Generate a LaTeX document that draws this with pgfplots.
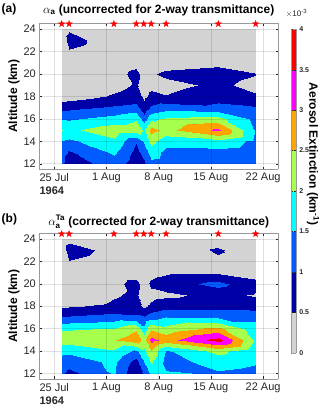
\documentclass[border=0pt]{standalone}
\usepackage{fontspec}
\setmainfont{Liberation Sans}
\usepackage{amsmath}
\usepackage{pgfplots}
\pgfplotsset{compat=1.18}
\definecolor{cgray}{HTML}{D3D3D3}
\definecolor{cnavy}{HTML}{0000A8}
\definecolor{cblue}{HTML}{005CFF}
\definecolor{ccyan}{HTML}{00FFFF}
\definecolor{clime}{HTML}{A6FF4D}
\definecolor{corange}{HTML}{FFA500}
\definecolor{cmag}{HTML}{FF00FF}
\definecolor{cred}{HTML}{FF0000}
\definecolor{ink}{HTML}{262626}

% filled five-pointed star
\pgfdeclareplotmark{pstar}{%
  \pgfpathmoveto{\pgfpointpolar{90}{\pgfplotmarksize}}%
  \pgfpathlineto{\pgfpointpolar{126}{0.4\pgfplotmarksize}}%
  \pgfpathlineto{\pgfpointpolar{162}{\pgfplotmarksize}}%
  \pgfpathlineto{\pgfpointpolar{198}{0.4\pgfplotmarksize}}%
  \pgfpathlineto{\pgfpointpolar{234}{\pgfplotmarksize}}%
  \pgfpathlineto{\pgfpointpolar{270}{0.4\pgfplotmarksize}}%
  \pgfpathlineto{\pgfpointpolar{306}{\pgfplotmarksize}}%
  \pgfpathlineto{\pgfpointpolar{342}{0.4\pgfplotmarksize}}%
  \pgfpathlineto{\pgfpointpolar{18}{\pgfplotmarksize}}%
  \pgfpathlineto{\pgfpointpolar{54}{0.4\pgfplotmarksize}}%
  \pgfpathclose
  \pgfusepathqfillstroke
}

\pgfplotsset{
  /pgf/number format/assume math mode=true,
  extmap/.style={colormap={ext}{color(0)=(cgray) color(0.5)=(cnavy) color(1)=(cblue)
      color(1.5)=(ccyan) color(2)=(clime) color(2.5)=(corange) color(3)=(cmag)
      color(3.5)=(cred) color(4)=(cred)}},
  panel/.style={
    view={0}{90}, scale only axis, width=238.7pt, height=146pt,
    xmin=23, xmax=55, ymin=11.5, ymax=24.5, zmin=0, zmax=4,
    xtick={25,32,39,46,53},
    xticklabels={{\begin{tabular}{@{}l@{}}25 Jul\\\textbf{1964}\end{tabular}},1 Aug,8 Aug,15 Aug,22 Aug},
    ytick={12,14,...,24}, ztick=\empty,
    xmajorgrids, ymajorgrids, major grid style={black,opacity=0.12},
    axis on top, clip=false,
    tick align=inside, major tick length=2.5pt,
    tick style={ink}, axis line style={black!40},
    tick label style={font=\fontsize{11}{13}\selectfont, text=ink},
    extmap, colormap access=piecewise constant,
    point meta min=0, point meta max=4,
  },
  stars/.style={only marks, mark=pstar, mark size=3.5pt, color=cred,
    mark options={fill=cred, draw=cred, line width=0.2pt}},
}

\begin{document}
\begin{tikzpicture}
\useasboundingbox (0,0) rectangle (320pt,409pt);

% panel (a)
\begin{axis}[panel, at={(39.3pt,239.7pt)}, anchor=south west,
  colorbar,
  colorbar style={
    at={(parent axis.north east)}, anchor=north west, xshift=4.7pt, yshift=-6pt,
    scale only axis, width=4.5pt, height=323.4pt,
    ytick={0,0.5,...,4},
    yticklabel style={font=\fontsize{7}{8}\selectfont\bfseries, text=ink},
    axis line style={black!40}, tick style={ink}, major tick length=1.5pt,
  }]
\addplot3[surf, shader=interp, mesh/cols=9] coordinates {
(26,12,1.1) (27,12,0.7) (33,12,1.25) (36,12,0.7) (37,12,0.9) (38,12,1.33) (40,12,1.3) (47,12,1.2) (52,12,1.1)
(26,13,1.2) (27,13,0.95) (33,13,1.6) (36,13,0.85) (37,13,1.2) (38,13,1.75) (40,13,1.35) (47,13,1.34) (52,13,1.2)
(26,14,1.48) (27,14,1.4) (33,14,1.9) (36,14,1.05) (37,14,1.6) (38,14,2.2) (40,14,1.7) (47,14,1.88) (52,14,1.35)
(26,15,2.02) (27,15,1.9) (33,15,2.3) (36,15,2.3) (37,15,1.95) (38,15,2.7) (40,15,2.34) (47,15,3.1) (52,15,1.45)
(26,16,1.48) (27,16,1.45) (33,16,1.7) (36,16,1.95) (37,16,1.25) (38,16,1.9) (40,16,2.1) (47,16,2.2) (52,16,1.35)
(26,17,0.86) (27,17,0.9) (33,17,1.1) (36,17,1.2) (37,17,0.7) (38,17,1.1) (40,17,1.3) (47,17,1.15) (52,17,1.05)
(26,18,0.2) (27,18,0.25) (33,18,0.55) (36,18,0.7) (37,18,0.4) (38,18,0.6) (40,18,0.52) (47,18,0.8) (52,18,0.55)
(26,19,0.1) (27,19,0.1) (33,19,0.35) (36,19,0.55) (37,19,0.3) (38,19,0.4) (40,19,0.35) (47,19,0.6) (52,19,0.35)
(26,20,0.1) (27,20,0.1) (33,20,0.3) (36,20,0.65) (37,20,0.3) (38,20,0.45) (40,20,0.6) (47,20,0.7) (52,20,0.52)
(26,21,0.1) (27,21,0.1) (33,21,0.2) (36,21,0.35) (37,21,0.2) (38,21,0.2) (40,21,0.3) (47,21,0.4) (52,21,0.2)
(26,22,0.1) (27,22,0.45) (33,22,0.1) (36,22,0.1) (37,22,0.1) (38,22,0.1) (40,22,0.15) (47,22,0.2) (52,22,0.1)
(26,23,0.1) (27,23,0.75) (33,23,0.1) (36,23,0.1) (37,23,0.1) (38,23,0.1) (40,23,0.1) (47,23,0.1) (52,23,0.05)
(26,24,0.1) (27,24,0.42) (33,24,0.05) (36,24,0.05) (37,24,0.05) (38,24,0.05) (40,24,0.05) (47,24,0.05) (52,24,0.05)
};
\addplot3[stars] coordinates {(26,24.45,0) (27,24.45,0) (33,24.45,0) (36,24.45,0) (37,24.45,0) (38,24.45,0) (40,24.45,0) (47,24.45,0) (52,24.45,0)};
\end{axis}

% panel (b)
\begin{axis}[panel, at={(39.3pt,30pt)}, anchor=south west, height=145.7pt]
\addplot3[surf, shader=interp, mesh/cols=9] coordinates {
(26,12,1.1) (27,12,0.85) (33,12,1.55) (36,12,0.6) (37,12,1.1) (38,12,1.6) (40,12,1.55) (47,12,1.45) (52,12,1.35)
(26,13,1.35) (27,13,1.25) (33,13,1.6) (36,13,0.8) (37,13,1.5) (38,13,2.05) (40,13,1.3) (47,13,1.7) (52,13,1.55)
(26,14,1.6) (27,14,1.6) (33,14,1.95) (36,14,1.4) (37,14,1.9) (38,14,2.45) (40,14,1.45) (47,14,2.15) (52,14,1.6)
(26,15,2.3) (27,15,2.25) (33,15,2.48) (36,15,2.8) (37,15,2.3) (38,15,3.2) (40,15,2.79) (47,15,3.7) (52,15,1.9)
(26,16,1.95) (27,16,1.95) (33,16,2.05) (36,16,2.45) (37,16,1.7) (38,16,2.45) (40,16,2.2) (47,16,2.7) (52,16,1.7)
(26,17,1.05) (27,17,1.05) (33,17,1.2) (36,17,1.1) (37,17,1.05) (38,17,1.3) (40,17,1.5) (47,17,1.4) (52,17,1.4)
(26,18,0.4) (27,18,0.45) (33,18,0.6) (36,18,0.7) (37,18,0.4) (38,18,0.6) (40,18,0.8) (47,18,0.83) (52,18,0.75)
(26,19,0.1) (27,19,0.1) (33,19,0.45) (36,19,0.6) (37,19,0.2) (38,19,0.35) (40,19,0.4) (47,19,0.66) (52,19,0.45)
(26,20,0.1) (27,20,0.1) (33,20,0.35) (36,20,0.7) (37,20,0.25) (38,20,0.6) (40,20,0.75) (47,20,1.15) (52,20,0.65)
(26,21,0.1) (27,21,0.1) (33,21,0.2) (36,21,0.2) (37,21,0.15) (38,21,0.35) (40,21,0.45) (47,21,0.48) (52,21,0.3)
(26,22,0.1) (27,22,0.48) (33,22,0.1) (36,22,0.1) (37,22,0.1) (38,22,0.1) (40,22,0.15) (47,22,0.4) (52,22,0.1)
(26,23,0.1) (27,23,0.85) (33,23,0.23) (36,23,0.1) (37,23,0.1) (38,23,0.1) (40,23,0.1) (47,23,0.58) (52,23,0.1)
(26,24,0.1) (27,24,0.3) (33,24,0.05) (36,24,0.05) (37,24,0.05) (38,24,0.05) (40,24,0.05) (47,24,0.2) (52,24,0.05)
};
\addplot3[stars] coordinates {(26,24.45,0) (27,24.45,0) (33,24.45,0) (36,24.45,0) (37,24.45,0) (38,24.45,0) (40,24.45,0) (47,24.45,0) (52,24.45,0)};
\end{axis}

% titles and labels
\begin{scope}[every node/.style={font=\bfseries\fontsize{12}{14}\selectfont, inner sep=0pt}]
\node[anchor=west] at (1.5pt,400pt) {(a)};
\node at (158.7pt,399pt) {$\alpha_{\text{a}}$ (uncorrected for 2-way transmittance)};
\node[anchor=west] at (1.5pt,190pt) {(b)};
\node at (158.7pt,187.3pt) {$\alpha_{\text{a}}^{\text{Ta}}$ (corrected for 2-way transmittance)};
\node[rotate=90] at (14pt,312.7pt) {Altitude (km)};
\node[rotate=90] at (14pt,102.8pt) {Altitude (km)};
\node[rotate=-90] at (313pt,255pt) {Aerosol Extinction (km\textsuperscript{-1})};
\end{scope}
\node[font=\fontsize{8}{9}\selectfont, text=ink, inner sep=0pt] at (296.5pt,395.5pt) {$\times$10\textsuperscript{-3}};
\end{tikzpicture}
\end{document}
